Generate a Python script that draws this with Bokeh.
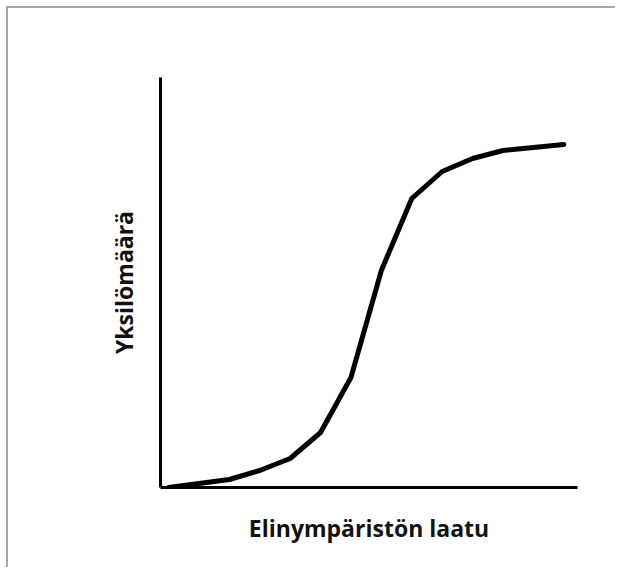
from bokeh.plotting import figure
from bokeh.models import Range1d
from bokeh.embed import file_html
from bokeh.resources import INLINE

# Data
x_vals = [0, 1, 2, 3, 4, 5, 6, 7, 8, 9, 10, 11, 12, 13]
y_vals = [0, 4, 8, 17, 29, 55, 110, 217, 289, 316, 329, 337, 340, 343]
x_label = "Elinympäristön laatu"
y_label = "Yksilömäärä"

p = figure(width=609, height=561, output_backend="svg", toolbar_location=None,
           x_range=Range1d(-0.263, 13.45), y_range=Range1d(0, 410),
           min_border_left=152, min_border_right=40, min_border_top=69, min_border_bottom=82)
p.grid.visible = False
p.outline_line_color = None
p.background_fill_color = "white"
p.border_fill_color = "white"

for ax in (p.xaxis[0], p.yaxis[0]):
    ax.major_tick_line_color = None
    ax.minor_tick_line_color = None
    ax.major_label_text_font_size = "0px"
    ax.major_label_text_color = None
    ax.axis_line_width = 3
    ax.axis_line_color = "black"
    ax.axis_label_text_font = "Open Sans"
    ax.axis_label_text_font_style = "bold"
    ax.axis_label_text_font_size = "23px"
    ax.axis_label_text_color = "#111111"

p.xaxis.axis_label = x_label
p.yaxis.axis_label = y_label
p.xaxis.axis_label_standoff = 18
p.yaxis.axis_label_standoff = 15

p.line(x_vals, y_vals, line_width=5, line_color="black", line_join="round", line_cap="round")

p.styles = {"margin-top": "8px", "margin-left": "8px",
            "box-shadow": "-2px -2px 0px 0px #a8a8a8"}

open("out.html", "w").write(file_html(p, INLINE))
